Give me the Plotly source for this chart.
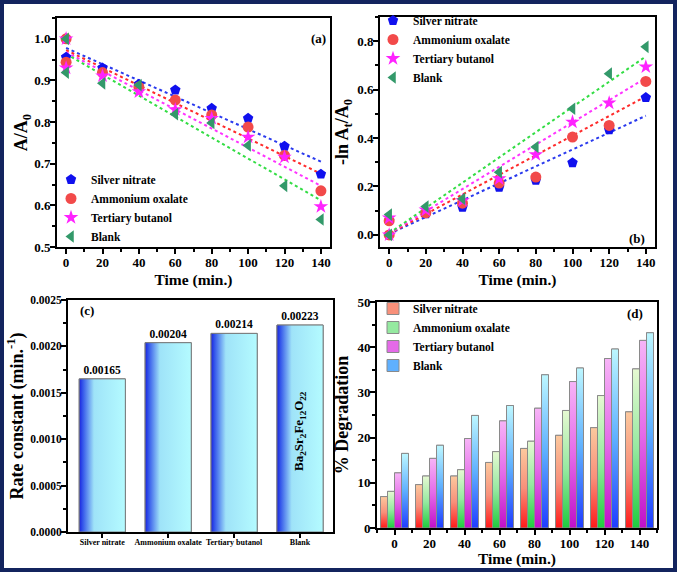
import plotly.graph_objects as go

# ---------------- data ----------------
series = ["Silver nitrate", "Ammonium oxalate", "Tertiary butanol", "Blank"]

time_a = [0, 0, 20, 40, 60, 80, 100, 120, 140]
ratio_silver = [1.0, 0.956, 0.930, 0.891, 0.877, 0.833, 0.809, 0.742, 0.675]
ratio_ammonium = [1.0, 0.944, 0.919, 0.884, 0.853, 0.817, 0.788, 0.720, 0.635]
ratio_tertiary = [1.0, 0.930, 0.911, 0.873, 0.830, 0.809, 0.764, 0.716, 0.597]
ratio_blank = [1.0, 0.919, 0.893, 0.889, 0.819, 0.798, 0.744, 0.647, 0.566]

fit_time = [0, 140]
fit_a_start = [0.978, 0.973, 0.968, 0.964]
fit_a_end = [0.705, 0.676, 0.647, 0.612]

lnr_silver = [0.0, 0.059, 0.087, 0.114, 0.197, 0.225, 0.298, 0.434, 0.567]
lnr_ammonium = [0.0, 0.058, 0.091, 0.131, 0.214, 0.239, 0.404, 0.452, 0.634]
lnr_tertiary = [0.0, 0.070, 0.103, 0.142, 0.232, 0.332, 0.466, 0.545, 0.694]
lnr_blank = [0.0, 0.084, 0.117, 0.149, 0.259, 0.363, 0.521, 0.666, 0.777]

fit_b_start = [0.004, 0.005, 0.006, 0.007]
fit_b_end = [0.492, 0.572, 0.648, 0.737]

rate_constant = [0.00165, 0.00204, 0.00214, 0.00223]

time_d = [0, 20, 40, 60, 80, 100, 120, 140]
deg_silver = [6.95, 9.6, 11.5, 14.5, 17.6, 20.5, 22.2, 25.7]
deg_ammonium = [8.1, 11.5, 12.9, 16.9, 19.2, 26.0, 29.3, 35.2]
deg_tertiary = [12.2, 15.4, 19.8, 23.7, 26.5, 32.4, 37.5, 41.5]
deg_blank = [16.5, 18.3, 24.9, 27.1, 33.9, 35.4, 39.6, 43.2]

# ---------------- styles ----------------
FONT = "Liberation Serif"
W, H = 681, 575
ratio_data = [ratio_silver, ratio_ammonium, ratio_tertiary, ratio_blank]
lnr_data = [lnr_silver, lnr_ammonium, lnr_tertiary, lnr_blank]
deg_data = [deg_silver, deg_ammonium, deg_tertiary, deg_blank]

marker_symbols = ["pentagon", "circle", "star", "triangle-left"]
marker_colors = ["#1010ee", "#f24a4a", "#ff22ff", "#33996a"]
fit_colors = ["#2a3aee", "#ff2a2a", "#ff33ff", "#33dd44"]

bar_scales = [
    [[0, "#ff1a1a"], [0.5, "#f8907a"], [1, "#fcc99e"]],
    [[0, "#1ecc3e"], [0.5, "#95e9a0"], [1, "#e6f9d2"]],
    [[0, "#c010c8"], [0.5, "#e46ae8"], [1, "#f7b4f7"]],
    [[0, "#1f3cff"], [0.5, "#5fb0ff"], [1, "#bdf7ff"]],
]
bar_mid = ["#f8907a", "#95e9a0", "#e46ae8", "#5fb0ff"]
rate_scale = [[0, "#1a22dd"], [0.07, "#3152ea"], [0.32, "#9fe3f8"], [1, "#b4fbff"]]


def px_x(p):
    return p / W


def px_y(p):
    return 1 - p / H


def axis(**kw):
    d = dict(showline=True, linecolor="black", linewidth=1.8, mirror=True,
             ticks="outside", ticklen=5, tickwidth=1.5, tickcolor="black",
             showgrid=False, zeroline=False, automargin=True,
             ticklabelstandoff=-3,
             tickfont=dict(size=13, family=FONT, color="black", weight="bold"))
    d.update(kw)
    return d


fig = go.Figure()

# ---------- (a) ----------
for i in range(4):
    fig.add_trace(go.Scatter(
        x=fit_time, y=[fit_a_start[i], fit_a_end[i]], mode="lines",
        line=dict(color=fit_colors[i], width=2, dash="dot"),
        showlegend=False, hoverinfo="skip", xaxis="x", yaxis="y"))
for i in range(4):
    fig.add_trace(go.Scatter(
        x=time_a, y=ratio_data[i], mode="markers", name=series[i],
        marker=dict(symbol=marker_symbols[i], color=marker_colors[i], size=11,
                    line=dict(width=0)),
        legend="legend", xaxis="x", yaxis="y"))

# ---------- (b) ----------
for i in range(4):
    fig.add_trace(go.Scatter(
        x=fit_time, y=[fit_b_start[i], fit_b_end[i]], mode="lines",
        line=dict(color=fit_colors[i], width=2, dash="dot"),
        showlegend=False, hoverinfo="skip", xaxis="x2", yaxis="y2"))
for i in range(4):
    fig.add_trace(go.Scatter(
        x=time_a, y=lnr_data[i], mode="markers", name=series[i],
        marker=dict(symbol=marker_symbols[i], color=marker_colors[i], size=11,
                    line=dict(width=0)),
        legend="legend2", xaxis="x2", yaxis="y2"))

# ---------- (c) ----------
rate_x = list(range(len(series)))
fig.add_trace(go.Bar(
    x=rate_x, y=rate_constant, width=0.7, marker=dict(color="#a8eaf8",
    line=dict(color="#7a7a7a", width=1)),
    text=rate_constant, texttemplate="%{y:.5f}", textposition="outside",
    textfont=dict(size=11.5, family=FONT, color="black", weight="bold"),
    cliponaxis=False, showlegend=False, xaxis="x3", yaxis="y3"))
for k, v in enumerate(rate_constant):
    x0, x1 = rate_x[k] - 0.35, rate_x[k] + 0.35
    fig.add_trace(go.Scatter(
        x=[x0, x1, x1, x0, x0], y=[0, 0, v, v, 0], mode="lines",
        fill="toself", fillgradient=dict(type="horizontal", colorscale=rate_scale),
        line=dict(color="#7a7a7a", width=1), showlegend=False, hoverinfo="skip",
        xaxis="x3", yaxis="y3"))

# ---------- (d) ----------
bw = 4
for i in range(4):
    off = -2 * bw + i * bw
    fig.add_trace(go.Bar(
        x=time_d, y=deg_data[i], offset=off, width=bw, name=series[i],
        marker=dict(color=bar_mid[i], line=dict(color="#8a8a8a", width=1)),
        legend="legend3", xaxis="x4", yaxis="y4"))
for i in range(4):
    off = -2 * bw + i * bw
    for t, v in zip(time_d, deg_data[i]):
        x0, x1 = t + off, t + off + bw
        fig.add_trace(go.Scatter(
            x=[x0, x1, x1, x0, x0], y=[0, 0, v, v, 0], mode="lines",
            fill="toself",
            fillgradient=dict(type="vertical", colorscale=bar_scales[i]),
            line=dict(color="#8a8a8a", width=1), showlegend=False,
            hoverinfo="skip", xaxis="x4", yaxis="y4"))

title_font = dict(size=18, family=FONT, color="black", weight="bold")
xt_font = dict(size=15.5, family=FONT, color="black", weight="bold")
leg_font = dict(size=11.5, family=FONT, color="black", weight="bold")

fig.update_layout(
    width=W, height=H, margin=dict(l=0, r=0, t=0, b=0, autoexpand=False),
    paper_bgcolor="white", plot_bgcolor="white",
    font=dict(family=FONT, color="black", weight="bold"),
    barmode="overlay",
    xaxis=axis(domain=[px_x(57), px_x(330)], range=[-5, 145], dtick=20, tick0=0,
               minor=dict(dtick=10, ticks="outside", ticklen=3, tickcolor="black"),
               title=dict(text="Time (min.)", font=xt_font, standoff=6),
               anchor="y"),
    yaxis=axis(domain=[px_y(247), px_y(18)], range=[0.5, 1.05], dtick=0.1, tick0=0.5,
               tickformat=".1f",
               minor=dict(dtick=0.05, ticks="outside", ticklen=3, tickcolor="black"),
               title=dict(text="A/A<sub>0</sub>", font=title_font, standoff=0),
               anchor="x"),
    xaxis2=axis(domain=[px_x(380), px_x(655)], range=[-5, 145], dtick=20, tick0=0,
                minor=dict(dtick=10, ticks="outside", ticklen=3, tickcolor="black"),
                title=dict(text="Time (min.)", font=xt_font, standoff=6),
                anchor="y2"),
    yaxis2=axis(domain=[px_y(247), px_y(17)], range=[-0.05, 0.9], dtick=0.2, tick0=0,
                tickformat=".1f",
                minor=dict(dtick=0.1, ticks="outside", ticklen=3, tickcolor="black"),
                title=dict(text="-ln A<sub>t</sub>/A<sub>0</sub>", font=title_font, standoff=4),
                anchor="x2"),
    xaxis3=axis(domain=[px_x(68), px_x(333)], range=[-0.52, 3.5],
                tickvals=rate_x, ticktext=series, ticklen=4, tickangle=0,
                tickfont=dict(size=8, family=FONT, color="black", weight="bold"),
                anchor="y3"),
    yaxis3=axis(domain=[px_y(532), px_y(300)], range=[0, 0.0025], dtick=0.0005,
                tickformat=".4f",
                tickfont=dict(size=11.5, family=FONT, color="black", weight="bold"),
                minor=dict(dtick=0.00025, ticks="outside", ticklen=3, tickcolor="black"),
                title=dict(text="Rate constant (min.<sup>-1</sup>)", font=title_font, standoff=2),
                anchor="x3"),
    xaxis4=axis(domain=[px_x(377), px_x(657)], range=[-10, 150], dtick=20, tick0=0,
                minor=dict(dtick=10, ticks="outside", ticklen=3, tickcolor="black"),
                title=dict(text="Time (min.)", font=xt_font, standoff=4),
                anchor="y4"),
    yaxis4=axis(domain=[px_y(528), px_y(302)], range=[0, 50], dtick=10, tick0=0,
                minor=dict(dtick=5, ticks="outside", ticklen=3, tickcolor="black"),
                title=dict(text="% Degradation", font=title_font, standoff=4),
                anchor="x4"),
    legend=dict(x=px_x(51), y=px_y(208), xanchor="left", yanchor="middle",
                bgcolor="rgba(0,0,0,0)", font=leg_font, tracegroupgap=0),
    legend2=dict(x=px_x(373), y=px_y(49), xanchor="left", yanchor="middle",
                 bgcolor="rgba(0,0,0,0)", font=leg_font, tracegroupgap=0),
    legend3=dict(x=px_x(373), y=px_y(337), xanchor="left", yanchor="middle",
                 bgcolor="rgba(0,0,0,0)", font=leg_font, tracegroupgap=0),
    annotations=[
        dict(text="(a)", x=px_x(318), y=px_y(29), xref="paper", yref="paper",
             showarrow=False, font=dict(size=13, family=FONT, weight="bold")),
        dict(text="(b)", x=px_x(647), y=px_y(238), xref="paper", yref="paper",
             showarrow=False, font=dict(size=13, family=FONT, weight="bold")),
        dict(text="(c)", x=px_x(78), y=px_y(310), xref="paper", yref="paper",
             showarrow=False, font=dict(size=13, family=FONT, weight="bold")),
        dict(text="(d)", x=px_x(645), y=px_y(313), xref="paper", yref="paper",
             showarrow=False, font=dict(size=13, family=FONT, weight="bold")),
        dict(text="Ba<sub>2</sub>Sr<sub>2</sub>Fe<sub>12</sub>O<sub>22</sub>",
             x=rate_x[3], y=0.00109, xref="x3", yref="y3", textangle=-90,
             showarrow=False, font=dict(size=13, family=FONT, weight="bold")),
    ],
    shapes=[dict(type="rect", xref="paper", yref="paper",
                 x0=px_x(2), x1=px_x(675), y0=px_y(570), y1=px_y(2),
                 line=dict(color="#13245e", width=4), fillcolor="rgba(0,0,0,0)")],
)

fig.write_html("out.html", config={"displayModeBar": False},
               post_script="document.body.style.margin='0';document.body.style.padding='0';")
